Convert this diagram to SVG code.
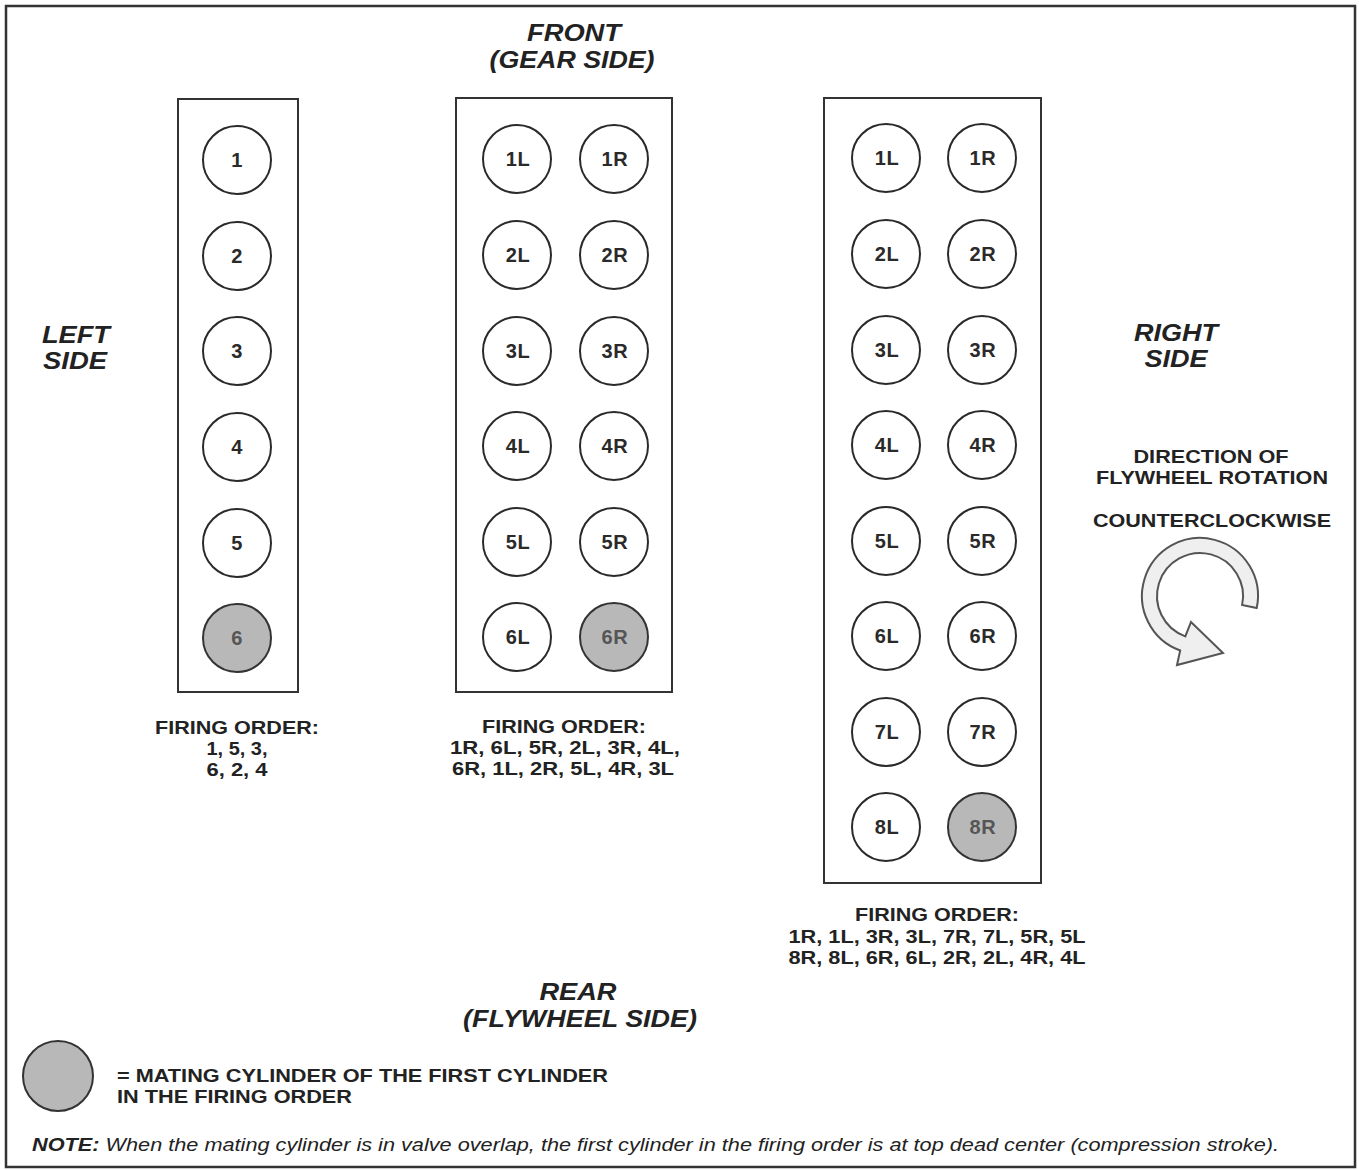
<svg xmlns="http://www.w3.org/2000/svg" width="1359" height="1170" viewBox="0 0 1359 1170">
<style>
.frame{fill:#fff;stroke:#333;stroke-width:2.5}
.blk{fill:#fff;stroke:#333;stroke-width:2}
.cyl{fill:#fff;stroke:#2a2a2a;stroke-width:2}
.mate{fill:#b8b8b8;stroke:#333;stroke-width:2}
.cl{font-family:"Liberation Sans",Arial,sans-serif;font-weight:bold;font-size:20px;letter-spacing:0.6px;fill:#2a2a2a;text-anchor:middle;dominant-baseline:central}
.cm{fill:#555}
.hd{font-family:"Liberation Sans",Arial,sans-serif;font-weight:bold;font-style:italic;font-size:24px;fill:#222;text-anchor:middle}
.lb{font-family:"Liberation Sans",Arial,sans-serif;font-weight:bold;font-size:19px;fill:#222;text-anchor:middle}
.lg{font-family:"Liberation Sans",Arial,sans-serif;font-weight:bold;font-size:19px;fill:#222}
.nt{font-family:"Liberation Sans",Arial,sans-serif;font-style:italic;font-size:18.5px;fill:#222}
</style>
<rect x="6" y="6" width="1349" height="1161" class="frame"/>

<g id="headings">
<text class="hd" x="574" y="41" textLength="94" lengthAdjust="spacingAndGlyphs">FRONT</text>
<text class="hd" x="572" y="68" textLength="165" lengthAdjust="spacingAndGlyphs">(GEAR SIDE)</text>
<text class="hd" x="76" y="343" textLength="68" lengthAdjust="spacingAndGlyphs">LEFT</text>
<text class="hd" x="75" y="369" textLength="64" lengthAdjust="spacingAndGlyphs">SIDE</text>
<text class="hd" x="1176" y="341" textLength="84" lengthAdjust="spacingAndGlyphs">RIGHT</text>
<text class="hd" x="1176" y="367" textLength="63" lengthAdjust="spacingAndGlyphs">SIDE</text>
<text class="hd" x="578" y="1000" textLength="77" lengthAdjust="spacingAndGlyphs">REAR</text>
<text class="hd" x="580" y="1027" textLength="234" lengthAdjust="spacingAndGlyphs">(FLYWHEEL SIDE)</text>
</g>

<g id="inline6">
<rect x="178" y="99" width="120" height="593" class="blk"/>
<g id="c1"><circle cx="237" cy="160" r="34" class="cyl"/><text class="cl" x="237" y="160">1</text></g>
<g id="c2"><circle cx="237" cy="256" r="34" class="cyl"/><text class="cl" x="237" y="256">2</text></g>
<g id="c3"><circle cx="237" cy="351" r="34" class="cyl"/><text class="cl" x="237" y="351">3</text></g>
<g id="c4"><circle cx="237" cy="447" r="34" class="cyl"/><text class="cl" x="237" y="447">4</text></g>
<g id="c5"><circle cx="237" cy="543" r="34" class="cyl"/><text class="cl" x="237" y="543">5</text></g>
<g id="c6"><circle cx="237" cy="638" r="34" class="mate"/><text class="cl cm" x="237" y="638">6</text></g>
<text class="lb" x="237" y="734" textLength="164" lengthAdjust="spacingAndGlyphs">FIRING ORDER:</text>
<text class="lb" x="237" y="755" textLength="61" lengthAdjust="spacingAndGlyphs">1, 5, 3,</text>
<text class="lb" x="237" y="776" textLength="61" lengthAdjust="spacingAndGlyphs">6, 2, 4</text>
</g>

<g id="v12">
<rect x="456" y="98" width="216" height="594" class="blk"/>
<g id="c1L"><circle cx="517" cy="159" r="34" class="cyl"/><text class="cl" x="518" y="159">1L</text></g>
<g id="c1R"><circle cx="614" cy="159" r="34" class="cyl"/><text class="cl" x="615" y="159">1R</text></g>
<g id="c2L"><circle cx="517" cy="255" r="34" class="cyl"/><text class="cl" x="518" y="255">2L</text></g>
<g id="c2R"><circle cx="614" cy="255" r="34" class="cyl"/><text class="cl" x="615" y="255">2R</text></g>
<g id="c3L"><circle cx="517" cy="351" r="34" class="cyl"/><text class="cl" x="518" y="351">3L</text></g>
<g id="c3R"><circle cx="614" cy="351" r="34" class="cyl"/><text class="cl" x="615" y="351">3R</text></g>
<g id="c4L"><circle cx="517" cy="446" r="34" class="cyl"/><text class="cl" x="518" y="446">4L</text></g>
<g id="c4R"><circle cx="614" cy="446" r="34" class="cyl"/><text class="cl" x="615" y="446">4R</text></g>
<g id="c5L"><circle cx="517" cy="542" r="34" class="cyl"/><text class="cl" x="518" y="542">5L</text></g>
<g id="c5R"><circle cx="614" cy="542" r="34" class="cyl"/><text class="cl" x="615" y="542">5R</text></g>
<g id="c6L"><circle cx="517" cy="637" r="34" class="cyl"/><text class="cl" x="518" y="637">6L</text></g>
<g id="c6R"><circle cx="614" cy="637" r="34" class="mate"/><text class="cl cm" x="615" y="637">6R</text></g>
<text class="lb" x="564" y="733" textLength="164" lengthAdjust="spacingAndGlyphs">FIRING ORDER:</text>
<text class="lb" x="565" y="754" textLength="230" lengthAdjust="spacingAndGlyphs">1R, 6L, 5R, 2L, 3R, 4L,</text>
<text class="lb" x="563" y="775" textLength="222" lengthAdjust="spacingAndGlyphs">6R, 1L, 2R, 5L, 4R, 3L</text>
</g>

<g id="v16">
<rect x="824" y="98" width="217" height="785" class="blk"/>
<g id="d1L"><circle cx="886" cy="158" r="34" class="cyl"/><text class="cl" x="887" y="158">1L</text></g>
<g id="d1R"><circle cx="982" cy="158" r="34" class="cyl"/><text class="cl" x="983" y="158">1R</text></g>
<g id="d2L"><circle cx="886" cy="254" r="34" class="cyl"/><text class="cl" x="887" y="254">2L</text></g>
<g id="d2R"><circle cx="982" cy="254" r="34" class="cyl"/><text class="cl" x="983" y="254">2R</text></g>
<g id="d3L"><circle cx="886" cy="350" r="34" class="cyl"/><text class="cl" x="887" y="350">3L</text></g>
<g id="d3R"><circle cx="982" cy="350" r="34" class="cyl"/><text class="cl" x="983" y="350">3R</text></g>
<g id="d4L"><circle cx="886" cy="445" r="34" class="cyl"/><text class="cl" x="887" y="445">4L</text></g>
<g id="d4R"><circle cx="982" cy="445" r="34" class="cyl"/><text class="cl" x="983" y="445">4R</text></g>
<g id="d5L"><circle cx="886" cy="541" r="34" class="cyl"/><text class="cl" x="887" y="541">5L</text></g>
<g id="d5R"><circle cx="982" cy="541" r="34" class="cyl"/><text class="cl" x="983" y="541">5R</text></g>
<g id="d6L"><circle cx="886" cy="636" r="34" class="cyl"/><text class="cl" x="887" y="636">6L</text></g>
<g id="d6R"><circle cx="982" cy="636" r="34" class="cyl"/><text class="cl" x="983" y="636">6R</text></g>
<g id="d7L"><circle cx="886" cy="732" r="34" class="cyl"/><text class="cl" x="887" y="732">7L</text></g>
<g id="d7R"><circle cx="982" cy="732" r="34" class="cyl"/><text class="cl" x="983" y="732">7R</text></g>
<g id="d8L"><circle cx="886" cy="827" r="34" class="cyl"/><text class="cl" x="887" y="827">8L</text></g>
<g id="d8R"><circle cx="982" cy="827" r="34" class="mate"/><text class="cl cm" x="983" y="827">8R</text></g>
<text class="lb" x="937" y="921" textLength="164" lengthAdjust="spacingAndGlyphs">FIRING ORDER:</text>
<text class="lb" x="937" y="943" textLength="297" lengthAdjust="spacingAndGlyphs">1R, 1L, 3R, 3L, 7R, 7L, 5R, 5L</text>
<text class="lb" x="937" y="964" textLength="297" lengthAdjust="spacingAndGlyphs">8R, 8L, 6R, 6L, 2R, 2L, 4R, 4L</text>
</g>

<g id="rotation">
<text class="lb" x="1211" y="463" textLength="155" lengthAdjust="spacingAndGlyphs">DIRECTION OF</text>
<text class="lb" x="1212" y="484" textLength="232" lengthAdjust="spacingAndGlyphs">FLYWHEEL ROTATION</text>
<text class="lb" x="1212" y="527" textLength="238" lengthAdjust="spacingAndGlyphs">COUNTERCLOCKWISE</text>
<path d="M1256.7,608.1 A58,58 0 1 0 1180.2,650.5 L1177,665 L1223,653 L1191,622 L1185.3,636.4 A43,43 0 1 1 1242.1,604.9 Z" fill="#efefef" stroke="#555" stroke-width="2" stroke-linejoin="miter"/>
</g>

<g id="legend">
<circle cx="58" cy="1076" r="35" class="mate"/>
<text class="lg" x="117" y="1082" textLength="491" lengthAdjust="spacingAndGlyphs">= MATING CYLINDER OF THE FIRST CYLINDER</text>
<text class="lg" x="117" y="1103" textLength="235" lengthAdjust="spacingAndGlyphs">IN THE FIRING ORDER</text>
</g>

<g id="note">
<text class="nt" x="32" y="1151" textLength="1247" lengthAdjust="spacingAndGlyphs"><tspan font-weight="bold">NOTE:</tspan> When the mating cylinder is in valve overlap, the first cylinder in the firing order is at top dead center (compression stroke).</text>
</g>
</svg>
